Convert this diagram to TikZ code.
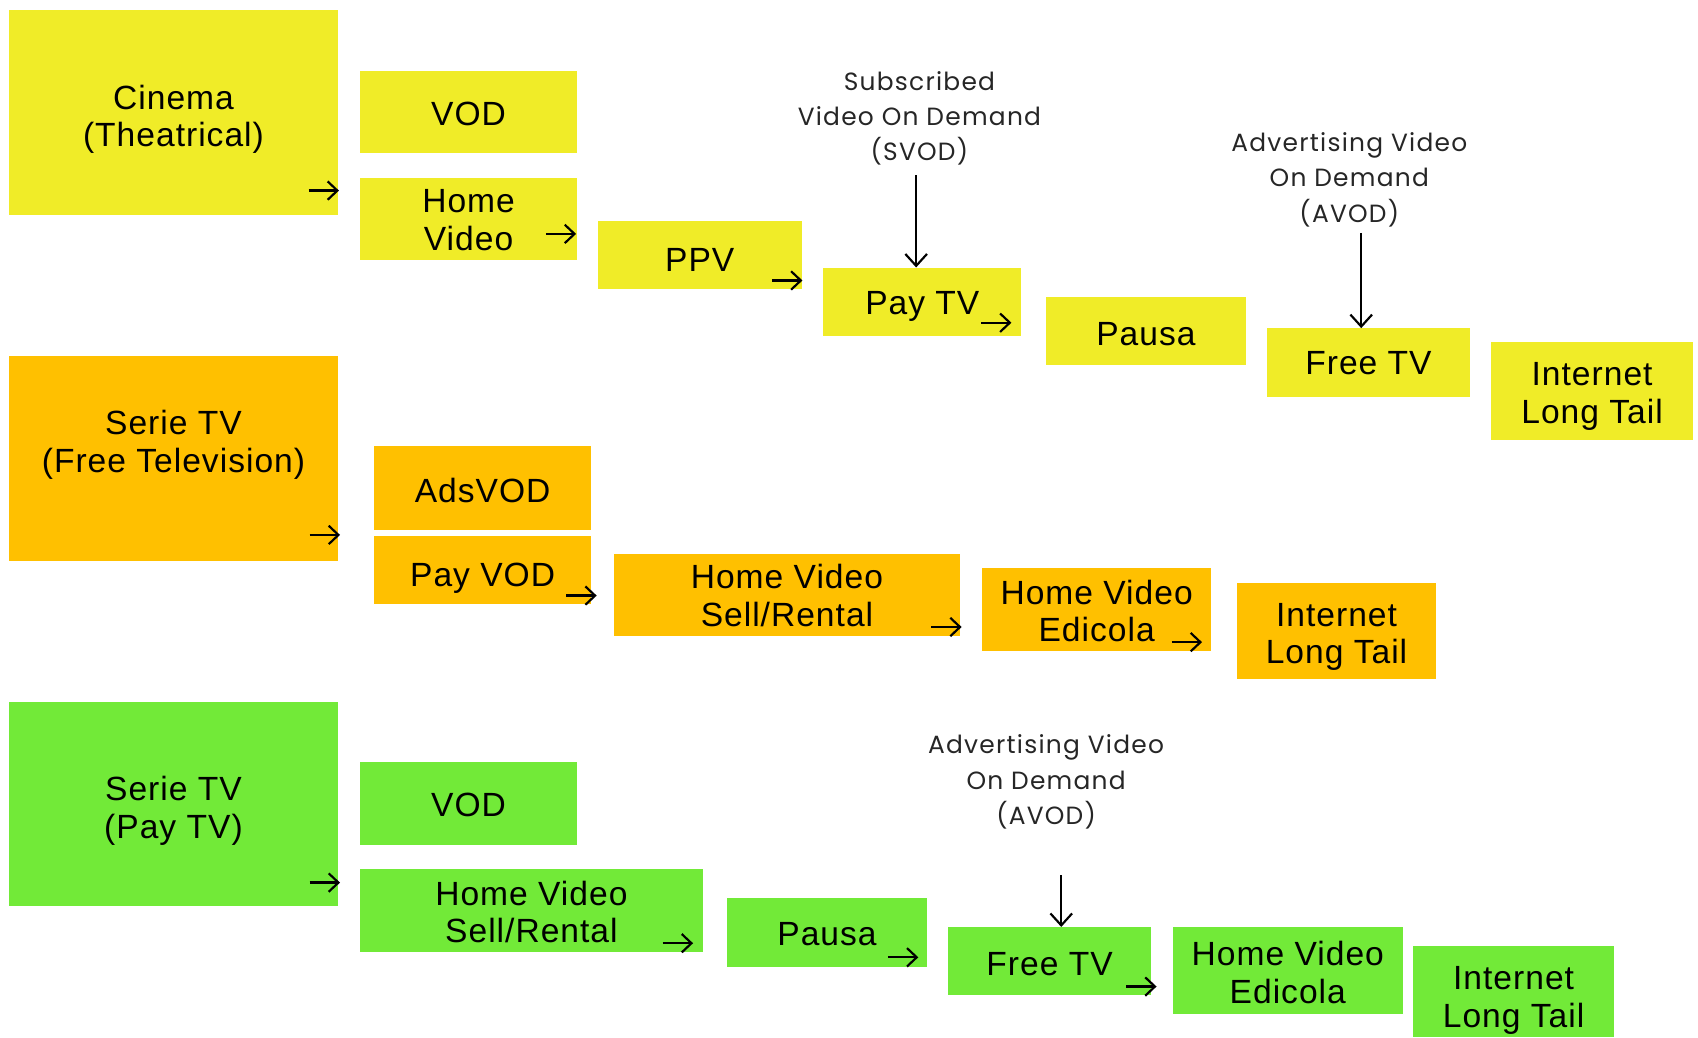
\documentclass[tikz,border=0pt]{standalone}
\usepackage{fontspec}
\setmainfont[LetterSpace=3]{Liberation Sans}
\newfontfamily\annfont[LetterSpace=5]{Poppins}
\usetikzlibrary{arrows.meta}
\definecolor{cy}{RGB}{240,236,40}
\definecolor{co}{RGB}{255,192,0}
\definecolor{cg}{RGB}{114,234,56}
% style, name, x, y, w, h, text shift down, text
\newcommand\bx[8]{\node[#1, minimum width=#5pt, minimum height=#6pt,
  label={[txt, yshift={(-1)*(#7)*1pt}]center:{#8}}] (#2) at (#3,#4) {};}
\begin{document}
\begin{tikzpicture}[x=1pt,y=-1pt,
 box/.style={rectangle, inner sep=0pt, anchor=north west},
 txt/.style={align=center, inner sep=0pt, font=\fontsize{31}{35}\selectfont},
 yb/.style={box, fill=cy}, ob/.style={box, fill=co}, gb/.style={box, fill=cg},
 ann/.style={align=center, font=\annfont\fontsize{23}{32.5}\selectfont, text=black!85, inner sep=0pt},
 sarr/.style={-{Straight Barb[length=9pt,width=17pt,line width=2pt]}, line width=2.2pt, black},
 varr/.style={-{Straight Barb[length=11pt,width=20pt,line width=2pt]}, line width=2pt, black}]
\useasboundingbox (0,0) rectangle (1568,958);
% Row 1
\bx{yb}{cin}{8}{9}{304}{189}{6.5}{Cinema\\(Theatrical)}
\bx{yb}{vod1}{332}{65}{201}{76}{2}{VOD}
\bx{yb}{hv1}{332}{164}{201}{76}{1}{Home\\Video}
\bx{yb}{ppv}{552}{204}{188}{63}{4}{PPV}
\bx{yb}{pay1}{760}{247}{183}{63}{4}{Pay TV}
\bx{yb}{pausa1}{966}{274}{184}{63}{3}{Pausa}
\bx{yb}{free1}{1170}{303}{187}{63}{1}{Free TV}
\bx{yb}{int1}{1377}{316}{186}{90}{5}{Internet\\Long Tail}
\node[ann] (svod) at (849,109) {Subscribed\\Video On Demand\\(SVOD)};
\node[ann] (avod1) at (1246,166) {Advertising Video\\On Demand\\(AVOD)};
% Row 2
\bx{ob}{ser2}{8}{329}{304}{189}{-13}{Serie TV\\(Free Television)}
\bx{ob}{ads}{345}{412}{201}{77}{2}{AdsVOD}
\bx{ob}{payvod}{345}{495}{201}{63}{7}{Pay VOD}
\bx{ob}{hvs2}{567}{511}{319}{76}{1}{Home Video\\Sell/Rental}
\bx{ob}{hve2}{907}{524}{211}{77}{1.5}{Home Video\\Edicola}
\bx{ob}{int2}{1142}{538}{184}{89}{5.5}{Internet\\Long Tail}
% Row 3
\bx{gb}{ser3}{8}{648}{304}{188}{6.5}{Serie TV\\(Pay TV)}
\bx{gb}{vod3}{332}{703}{201}{77}{2}{VOD}
\bx{gb}{hvs3}{332}{802}{317}{77}{1.5}{Home Video\\Sell/Rental}
\bx{gb}{pausa3}{671}{829}{185}{64}{1}{Pausa}
\bx{gb}{free3}{875}{856}{188}{63}{3}{Free TV}
\bx{gb}{hve3}{1083}{856}{212}{80}{1.5}{Home Video\\Edicola}
\bx{gb}{int3}{1305}{873}{185}{84}{8.5}{Internet\\Long Tail}
\node[ann] (avod3) at (966,722) {Advertising Video\\On Demand\\(AVOD)};
% vertical arrows
\coordinate (v1) at (846,162);
\draw[varr] (v1) -- (v1 |- pay1.north);
\coordinate (v2) at (1257,215);
\draw[varr] (v2) -- (v2 |- free1.north);
\coordinate (v3) at (980,808);
\draw[varr] (v3) -- (v3 |- free3.north);
% small arrows
\foreach \n/\x/\y in {a1/313/176, a2/532/216, a3/741/259, a4/934/298,
  b1/314/494, b2/551/550, b3/888/579, b4/1110/593,
  c1/314/815, c2/640/871, c3/848/884, c4/1068/911}{
  \coordinate (\n) at (\x,\y);
  \draw[sarr] ([xshift=-28pt]\n) -- (\n);
}
\end{tikzpicture}
\end{document}
